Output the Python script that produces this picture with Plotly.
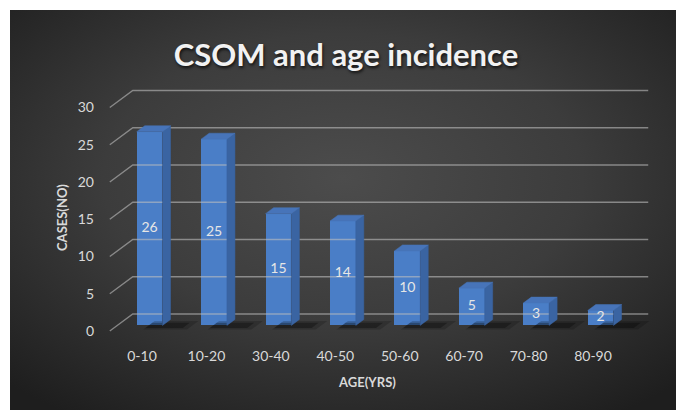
import base64
import plotly.graph_objects as go

# ---- data ----
age_groups = ["0-10", "10-20", "30-40", "40-50", "50-60", "60-70", "70-80", "80-90"]
cases = [26, 25, 15, 14, 10, 5, 3, 2]
y_ticks = [0, 5, 10, 15, 20, 25, 30]

# ---- figure geometry (pixels) ----
W, H = 676, 410
L, R, T, B = 100, 16, 80, 68
PW, PH = W - L - R, H - T - B
CAT_PX = 64.43          # pixels per category
VAL_PX = 7.45           # pixels per case
X0_PX = 142             # pixel of first category
Y0_PX = 331             # pixel of value 0 on the front plane

x_range = [(L - X0_PX) / CAT_PX, (W - R - X0_PX) / CAT_PX]
y_range = [(Y0_PX - (H - B)) / VAL_PX, (Y0_PX - T) / VAL_PX]

# oblique depth offset of the chart box (in axis units)
DX, DY = 0.357, 2.28
# bar depth placement (fraction of box depth) and width
F0, F1 = 0.33, 0.68
BW = 0.40

FRONT = "#4a7ec7"
SIDE = "#3a64a2"
TOP = "#4774b9"
TXT = "#d9d9d9"
FONT = "Lato"


def px_x(p):
    return (p - L) / PW


def px_y(p):
    return 1 - (p - T) / PH


fig = go.Figure()

# back-wall gridlines with the left-side diagonal returns
n = len(age_groups)
gx, gy = [], []
for t in y_ticks:
    gx += [-0.5, -0.5 + DX, n - 0.5 + DX, None]
    gy += [t, t + DY, t + DY, None]
fig.add_trace(go.Scatter(x=gx, y=gy, mode="lines", hoverinfo="skip",
                         line=dict(color="rgba(190,190,190,0.6)", width=1.4),
                         showlegend=False))

# soft floor shadows cast to the right of each bar (two layers for a blurred edge)
for grow, alpha in [(0.10, 0.18), (0.0, 0.30)]:
    sx, sy = [], []
    for i, v in enumerate(cases):
        c = i + F0 * DX
        xl, xr = c - BW / 2, c + BW / 2
        d0, d1 = F0 + 0.05 - grow, F1 + grow
        pts = [(xl, d0), (xr + 0.18 + grow, d0), (xr + 0.18 + grow, d1), (xl, d1)]
        for px_, d in pts:
            sx.append(px_ + d * DX)
            sy.append(d * DY - 0.45)
        sx.append(None)
        sy.append(None)
    fig.add_trace(go.Scatter(x=sx, y=sy, mode="lines", fill="toself",
                             fillcolor=f"rgba(0,0,0,{alpha})", line=dict(width=0),
                             hoverinfo="skip", showlegend=False))

# bar side and top faces
ddx, ddy = (F1 - F0) * DX, (F1 - F0) * DY
side_x, side_y, top_x, top_y = [], [], [], []
for i, v in enumerate(cases):
    c = i + F0 * DX
    xl, xr = c - BW / 2, c + BW / 2
    y0, yt = F0 * DY, v + F0 * DY
    side_x += [xr, xr, xr + ddx, xr + ddx, xr, None]
    side_y += [y0, yt, yt + ddy, y0 + ddy, y0, None]
    top_x += [xl, xr, xr + ddx, xl + ddx, xl, None]
    top_y += [yt, yt, yt + ddy, yt + ddy, yt, None]
fig.add_trace(go.Scatter(x=side_x, y=side_y, mode="lines", fill="toself",
                         fillcolor=SIDE, line=dict(width=0.5, color=SIDE),
                         hoverinfo="skip", showlegend=False))
fig.add_trace(go.Scatter(x=top_x, y=top_y, mode="lines", fill="toself",
                         fillcolor=TOP, line=dict(width=0.5, color=TOP),
                         hoverinfo="skip", showlegend=False))

# bar front faces
fig.add_trace(go.Bar(
    x=[i + F0 * DX for i in range(n)], y=cases, base=[F0 * DY] * n,
    width=BW, marker=dict(color=FRONT, line=dict(width=0)),
    showlegend=False, hovertemplate="%{customdata}: %{y}<extra></extra>",
    customdata=age_groups))

# value labels in the middle of each bar
fig.add_trace(go.Scatter(
    x=[i + F0 * DX for i in range(n)], y=[v / 2 + F0 * DY for v in cases],
    mode="text", text=[str(v) for v in cases],
    textfont=dict(family=FONT, size=14, color="#e6e6e6"),
    hoverinfo="skip", showlegend=False))

# radial-gradient backdrop
svg = (
    "<svg xmlns='http://www.w3.org/2000/svg' width='666' height='400'>"
    "<defs><radialGradient id='g' cx='0.5' cy='0.42' r='0.72'>"
    "<stop offset='0' stop-color='#4c4c4c'/>"
    "<stop offset='0.5' stop-color='#3c3c3c'/>"
    "<stop offset='1' stop-color='#1e1e1e'/>"
    "</radialGradient></defs>"
    "<rect width='666' height='400' fill='url(#g)'/></svg>"
)
bg_src = "data:image/svg+xml;base64," + base64.b64encode(svg.encode()).decode()

fig.update_layout(
    width=W, height=H, autosize=False,
    margin=dict(l=L, r=R, t=T, b=B),
    paper_bgcolor="white", plot_bgcolor="rgba(0,0,0,0)",
    images=[dict(source=bg_src, xref="paper", yref="paper",
                 x=px_x(10), y=px_y(10), sizex=666 / PW, sizey=400 / PH,
                 xanchor="left", yanchor="top", sizing="stretch", layer="below")],
    title=dict(text="<b>CSOM and age incidence</b>", x=346 / W, y=1 - 55 / H,
               xanchor="center", yanchor="middle", xref="container", yref="container",
               font=dict(family=FONT, size=31, color="#f2f2f2",
                         shadow="1px 2px 3px rgba(0,0,0,0.7)")),
    xaxis=dict(range=x_range, tickmode="array", tickvals=list(range(n)),
               ticktext=age_groups, showgrid=False, zeroline=False, showline=False,
               ticks="", tickfont=dict(family=FONT, size=14, color=TXT),
               ticklabelstandoff=4, fixedrange=True),
    yaxis=dict(range=y_range, tickmode="array", tickvals=y_ticks,
               showgrid=False, zeroline=False, showline=False, ticks="",
               tickfont=dict(family=FONT, size=14, color=TXT),
               ticklabelstandoff=5, fixedrange=True),
    annotations=[
        dict(text="<b>CASES(NO)</b>", xref="paper", yref="paper",
             x=px_x(62), y=px_y(218), textangle=-90, showarrow=False,
             xanchor="center", yanchor="middle",
             font=dict(family=FONT, size=13, color=TXT)),
        dict(text="<b>AGE(YRS)</b>", xref="paper", yref="paper",
             x=px_x(367), y=px_y(382), showarrow=False,
             xanchor="center", yanchor="middle",
             font=dict(family=FONT, size=13, color=TXT)),
    ],
    bargap=0,
)

fig.write_html("out.html")
